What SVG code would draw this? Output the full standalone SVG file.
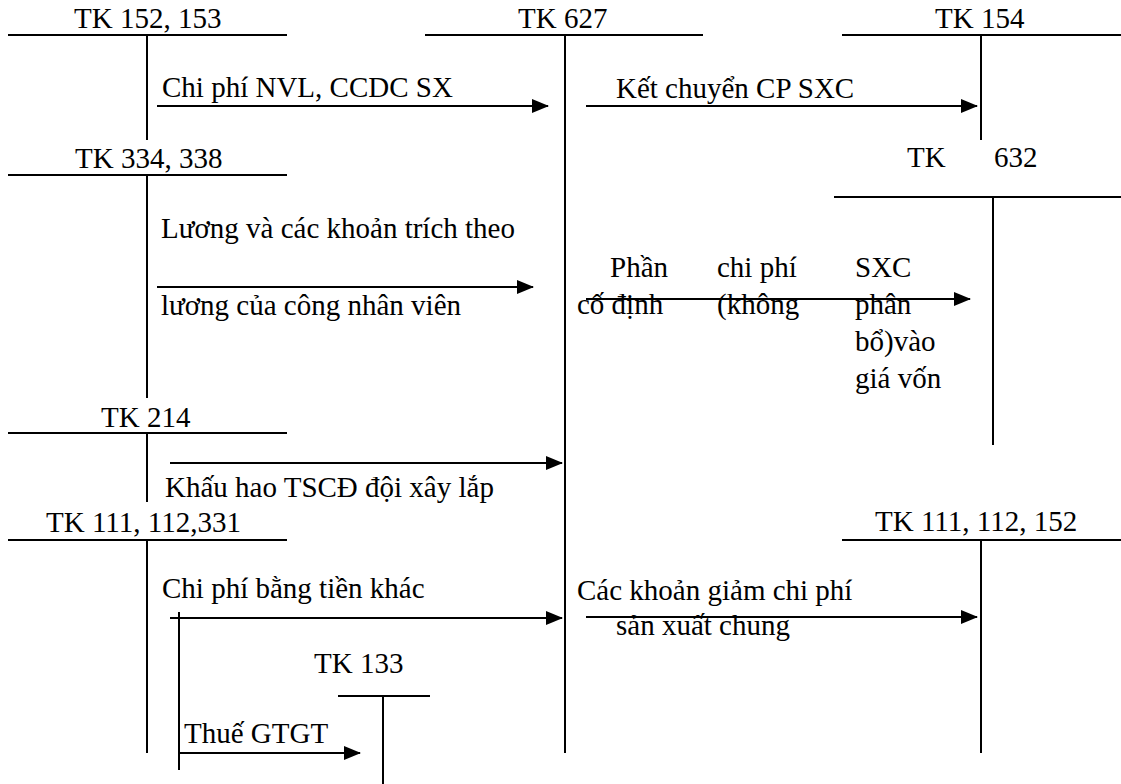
<svg xmlns="http://www.w3.org/2000/svg" width="1121" height="784" viewBox="0 0 1121 784">
<style>
text{font-family:"Liberation Serif","Times New Roman",serif;font-size:29px;fill:#000}
line{stroke:#000;stroke-width:2}
.arr{marker-end:url(#ah)}
</style>
<defs>
<marker id="ah" markerUnits="userSpaceOnUse" markerWidth="17" markerHeight="14" refX="16" refY="7" orient="auto">
<path d="M0,0 L17,7 L0,14 z" fill="#000"/>
</marker>
</defs>
<rect width="1121" height="784" fill="#fff"/>
<g id="tk152"><text x="74" y="28">TK 152, 153</text><line x1="8" y1="35" x2="287" y2="35"/><line x1="147" y1="35" x2="147" y2="140"/></g>
<g id="tk627"><text x="518" y="28">TK 627</text><line x1="425" y1="35" x2="703" y2="35"/><line x1="565" y1="35" x2="565" y2="753"/></g>
<g id="tk154"><text x="935" y="28">TK 154</text><line x1="842" y1="35" x2="1121" y2="35"/><line x1="981" y1="35" x2="981" y2="140"/></g>
<g id="tk334"><text x="75" y="168">TK 334, 338</text><line x1="8" y1="175" x2="287" y2="175"/><line x1="147" y1="175" x2="147" y2="398"/></g>
<g id="tk632"><text y="167"><tspan x="907">TK</tspan><tspan x="994">632</tspan></text><line x1="834" y1="197" x2="1121" y2="197"/><line x1="993" y1="197" x2="993" y2="445"/></g>
<g id="tk214"><text x="101" y="427">TK 214</text><line x1="8" y1="433" x2="287" y2="433"/><line x1="147" y1="433" x2="147" y2="502"/></g>
<g id="tk111l"><text x="46" y="532">TK 111, 112,331</text><line x1="8" y1="540" x2="287" y2="540"/><line x1="147" y1="540" x2="147" y2="753"/></g>
<g id="tk111r"><text x="875" y="531">TK 111, 112, 152</text><line x1="842" y1="540" x2="1121" y2="540"/><line x1="981" y1="540" x2="981" y2="753"/></g>
<g id="tk133"><text x="314" y="673">TK 133</text><line x1="338" y1="696" x2="430" y2="696"/><line x1="383" y1="696" x2="383" y2="784"/></g>
<g id="connectors">
<line class="arr" x1="157" y1="106" x2="548" y2="106"/>
<line class="arr" x1="586" y1="106" x2="977" y2="106"/>
<line class="arr" x1="157" y1="287" x2="533" y2="287"/>
<line class="arr" x1="586" y1="299" x2="970" y2="299"/>
<line class="arr" x1="170" y1="463" x2="562" y2="463"/>
<line class="arr" x1="170" y1="618" x2="562" y2="618"/>
<line class="arr" x1="586" y1="617" x2="977" y2="617"/>
<line x1="179" y1="612" x2="179" y2="770"/>
<line class="arr" x1="179" y1="753" x2="360" y2="753"/>
</g>
<g id="labels">
<text x="162" y="97">Chi phí NVL, CCDC SX</text>
<text x="616" y="98">Kết chuyển CP SXC</text>
<text x="161" y="238">Lương và các khoản trích theo</text>
<text x="161" y="315">lương của công nhân viên</text>
<text x="610" y="277">Phần</text>
<text x="717" y="277">chi phí</text>
<text x="855" y="277">SXC</text>
<text x="577" y="314">cố định</text>
<text x="717" y="314">(không</text>
<text x="855" y="314">phân</text>
<text x="855" y="351">bổ)vào</text>
<text x="855" y="388">giá vốn</text>
<text x="165" y="497">Khấu hao TSCĐ đội xây lắp</text>
<text x="162" y="598">Chi phí bằng tiền khác</text>
<text x="577" y="600">Các khoản giảm chi phí</text>
<text x="616" y="635">sản xuất chung</text>
<text x="184" y="743">Thuế GTGT</text>
</g>
</svg>
